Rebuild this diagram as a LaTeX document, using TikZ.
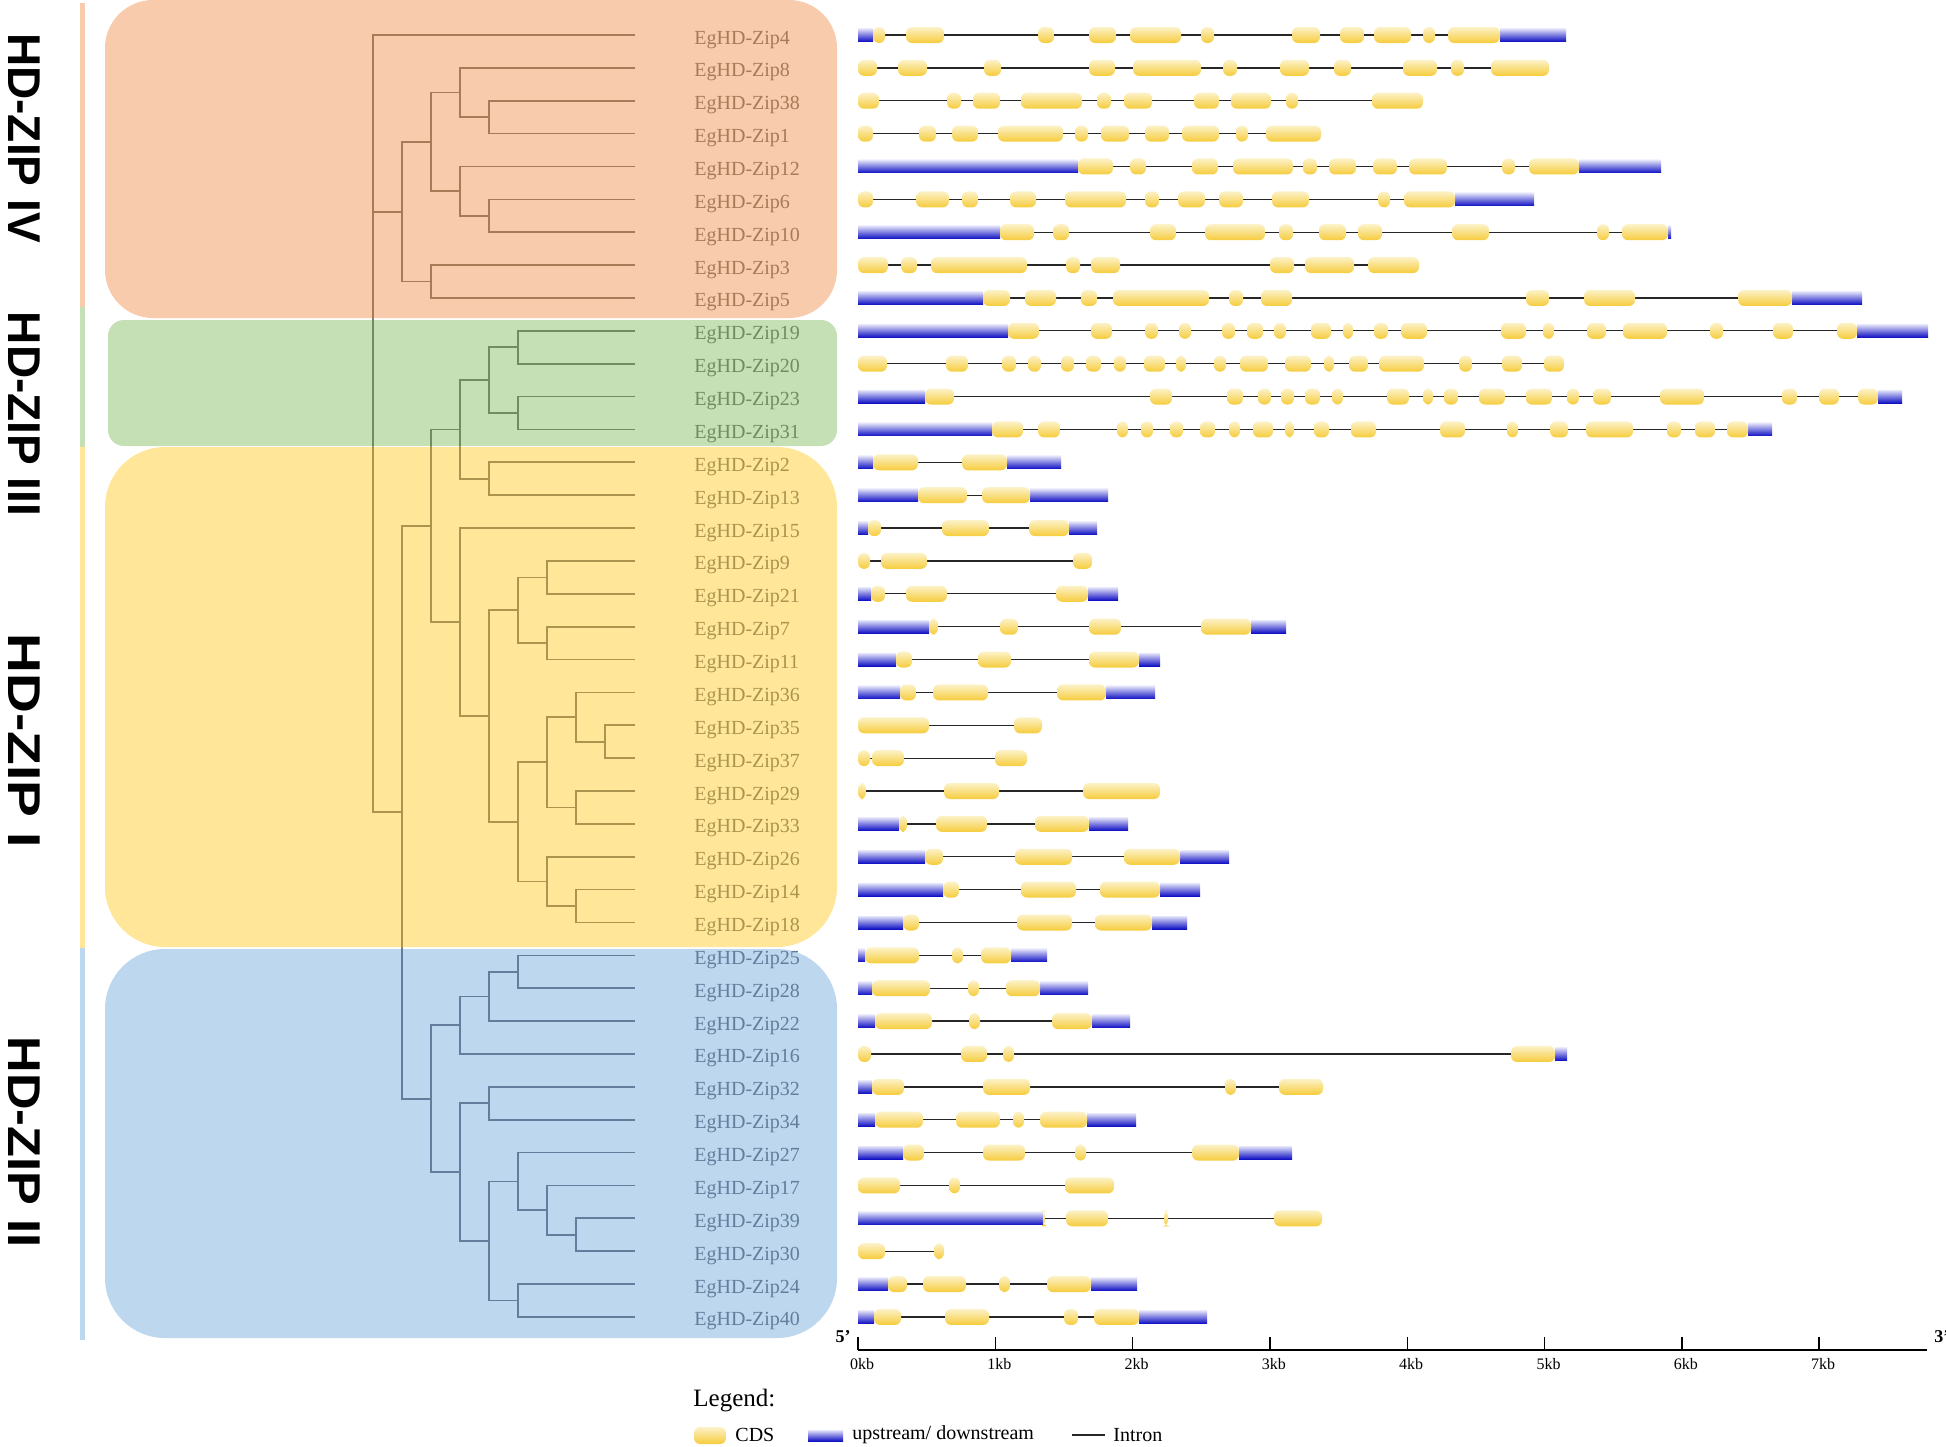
\documentclass[tikz,border=0pt]{standalone}
\usepackage{fontspec}
\setmainfont{Liberation Serif}
\newfontfamily\groupfont{Liberation Sans}
\usepackage{tikz}

\definecolor{cladeIV}{HTML}{F8CBAD}
\definecolor{cladeIII}{HTML}{C5E0B4}
\definecolor{cladeI}{HTML}{FFE699}
\definecolor{cladeII}{HTML}{BDD7EE}
\definecolor{inkIV}{RGB}{168,122,88}
\definecolor{inkIII}{RGB}{112,140,96}
\definecolor{inkI}{RGB}{170,148,78}
\definecolor{inkII}{RGB}{98,126,156}
\definecolor{cdsTop}{RGB}{252,242,200}
\definecolor{cdsBot}{RGB}{246,204,60}
\definecolor{utrTop}{RGB}{228,228,250}
\definecolor{utrMid}{RGB}{96,96,224}
\definecolor{utrBot}{RGB}{16,16,196}

\tikzset{
  branch/.style={line width=0.85pt},
  genelab/.style={font=\fontsize{10}{12}\selectfont, inner sep=0pt, anchor=base west},
  grouplab/.style={font=\groupfont\bfseries\fontsize{23}{23}\selectfont, inner sep=0pt, rotate=-90},
  cds/.style={rounded corners=3pt, top color=cdsTop, bottom color=cdsBot},
  utrbar/.style={top color=utrTop, middle color=utrMid, bottom color=utrBot},
  intron/.style={black!85, line width=0.65pt},
  axisline/.style={black, line width=1pt},
  tickline/.style={black, line width=0.7pt},
  ticklab/.style={font=\fontsize{8}{9}\selectfont, inner sep=0pt},
  leglab/.style={font=\fontsize{10}{12}\selectfont, inner sep=0pt, anchor=west}
}

% y of a row (row 0 = EgHD-Zip4)
\newcommand{\rowy}[1]{35+32.87*#1}
% row, start, end, utr list, cds list
\newcommand{\gene}[5]{%
  \draw[intron] (#2,{\rowy{#1}}) -- (#3,{\rowy{#1}});
  \if\relax\detokenize{#4}\relax\else
    \foreach \a/\b in {#4}{\path[utrbar] (\a,{\rowy{#1}-6.5}) rectangle (\b,{\rowy{#1}+6.5});}
  \fi
  \foreach \a/\b in {#5}{\path[cds] (\a,{\rowy{#1}-8}) rectangle (\b,{\rowy{#1}+8});}
}

% parent/child pairs of the tree
\def\treeedges{iv1/z38, iv1/z1, iv2/z8, iv2/iv1, iv3/z6, iv3/z10, iv4/z12, iv4/iv3,
    iv5/iv2, iv5/iv4, iv6/z3, iv6/z5, iv7/iv5, iv7/iv6,
    iii1/z19, iii1/z20, iii2/z23, iii2/z31, iii3/iii1, iii3/iii2, iii4/z2, iii4/z13, iii5/iii3, iii5/iii4,
    i1/z9, i1/z21, i2/z7, i2/z11, i3/i1, i3/i2, i4/z35, i4/z37, i5/z36, i5/i4, i6/z29, i6/z33,
    i7/i5, i7/i6, i8/z14, i8/z18, i9/z26, i9/i8, i10/i7, i10/i9, i11/i3, i11/i10, i12/z15, i12/i11,
    i13/iii5, i13/i12,
    ii1/z25, ii1/z28, ii2/ii1, ii2/z22, ii3/ii2, ii3/z16, ii4/z32, ii4/z34, ii5/z39, ii5/z30,
    ii6/z17, ii6/ii5, ii7/z27, ii7/ii6, ii8/z24, ii8/z40, ii9/ii7, ii9/ii8, ii10/ii4, ii10/ii9,
    ii11/ii3, ii11/ii10, r1/i13, r1/ii11, root/z4, root/iv7, root/r1}

\begin{document}
\begin{tikzpicture}[x=0.5pt,y=0.5pt,yscale=-1,xscale=1]
\useasboundingbox (0,0) rectangle (1946,1446);

% clade boxes
\path[fill=cladeIV, rounded corners=24pt] (105,0) rectangle (837,318);
\path[fill=cladeIII, rounded corners=8pt] (108,320) rectangle (837,446);
\path[fill=cladeI, rounded corners=30pt] (105,447) rectangle (837,947);
\path[fill=cladeII, rounded corners=30pt] (105,949) rectangle (837,1338);

% side bars
\fill[cladeIV] (80,3) rectangle (85,307);
\fill[cladeIII] (80,307) rectangle (85,447);
\fill[cladeI] (80,447) rectangle (85,948);
\fill[cladeII] (80,948) rectangle (85,1340);

% group names
\node[grouplab] (gIV) at (24,138) {HD-ZIP IV};
\node[grouplab] (gIII) at (24,414) {HD-ZIP III};
\node[grouplab, xscale=1.2] (gI) at (24,741) {HD-ZIP I};
\node[grouplab, xscale=1.1] (gII) at (24,1142) {HD-ZIP II};

% leaves and names
\foreach \g/\ink [count=\i from 0] in {4/inkIV,8/inkIV,38/inkIV,1/inkIV,12/inkIV,6/inkIV,10/inkIV,3/inkIV,5/inkIV,
    19/inkIII,20/inkIII,23/inkIII,31/inkIII,
    2/inkI,13/inkI,15/inkI,9/inkI,21/inkI,7/inkI,11/inkI,36/inkI,35/inkI,37/inkI,29/inkI,33/inkI,26/inkI,14/inkI,18/inkI,
    25/inkII,28/inkII,22/inkII,16/inkII,32/inkII,34/inkII,27/inkII,17/inkII,39/inkII,30/inkII,24/inkII,40/inkII}{
  \coordinate (z\g) at (635,{\rowy{\i}});
  \node[genelab, text=\ink] (t\g) at (694,{\rowy{\i}+9}) {EgHD-Zip\g};
}
% inner nodes: name/level/row
\foreach \n/\l/\r in {iv1/4/2.5, iv2/3/1.75, iv3/4/5.5, iv4/3/4.75, iv5/2/3.25, iv6/2/7.5, iv7/1/5.375,
    iii1/5/9.5, iii2/5/11.5, iii3/4/10.5, iii4/4/13.5, iii5/3/12,
    i1/6/16.5, i2/6/18.5, i3/5/17.5, i4/8/21.5, i5/7/20.75, i6/7/23.5, i7/6/22.125,
    i8/7/26.5, i9/6/25.75, i10/5/23.9375, i11/4/20.71875, i12/3/17.859375, i13/2/14.9296875,
    ii1/5/28.5, ii2/4/29.25, ii3/3/30.125, ii4/4/32.5, ii5/7/36.5, ii6/6/35.75, ii7/5/34.875,
    ii8/5/38.5, ii9/4/36.6875, ii10/3/34.59375, ii11/2/32.359375,
    r1/1/23.64453125, root/0/5.375}
  \coordinate (\n) at ({373+29*\l},{\rowy{\r}});

% branches, tinted by the box they cross
\foreach \ya/\yb/\ink in {0/319/inkIV, 319/446.5/inkIII, 446.5/948/inkI, 948/1446/inkII}{
  \begin{scope}
    \clip (0,\ya) rectangle (850,\yb);
    \foreach \p/\c in \treeedges
      \draw[branch, \ink] (\p) |- (\c);
  \end{scope}
}

% gene structures
\gene{0}{858}{1566}{858/873, 1500/1566}{873/885, 906/944, 1038/1054, 1089/1116, 1130/1181, 1201/1214, 1292/1320, 1340/1364, 1374/1411, 1423/1435, 1448/1500}
\gene{1}{858}{1549}{}{858/877, 898/927, 984/1001, 1089/1115, 1133/1201, 1223/1237, 1280/1309, 1334/1351, 1403/1437, 1451/1464, 1491/1549}
\gene{2}{858}{1423}{}{858/879, 947/961, 973/1000, 1021/1082, 1097/1111, 1124/1152, 1194/1219, 1231/1271, 1286/1298, 1372/1423}
\gene{3}{858}{1321}{}{858/873, 919/936, 952/978, 998/1063, 1075/1088, 1101/1129, 1145/1169, 1182/1219, 1236/1248, 1266/1321}
\gene{4}{858}{1661}{858/1078, 1579/1661}{1078/1113, 1130/1146, 1192/1218, 1233/1293, 1303/1317, 1329/1356, 1373/1397, 1409/1447, 1502/1515, 1529/1579}
\gene{5}{858}{1534}{1455/1534}{858/873, 916/949, 962/978, 1010/1036, 1065/1126, 1145/1159, 1178/1205, 1219/1243, 1272/1309, 1378/1390, 1404/1455}
\gene{6}{858}{1671}{858/1000, 1668/1671}{1000/1034, 1053/1069, 1150/1176, 1205/1265, 1279/1293, 1319/1346, 1358/1382, 1452/1489, 1597/1609, 1622/1668}
\gene{7}{858}{1419}{}{858/888, 901/917, 931/1027, 1066/1080, 1091/1120, 1270/1294, 1305/1354, 1368/1419}
\gene{8}{858}{1862}{858/983, 1792/1862}{983/1010, 1025/1056, 1081/1097, 1113/1209, 1229/1243, 1261/1292, 1526/1549, 1584/1635, 1738/1792}
\gene{9}{858}{1928}{858/1008, 1857/1928}{1008/1039, 1091/1112, 1145/1158, 1179/1191, 1222/1235, 1247/1263, 1274/1286, 1311/1331, 1343/1353, 1374/1388, 1401/1427, 1501/1526, 1543/1554, 1587/1606, 1623/1667, 1710/1723, 1773/1793, 1837/1857}
\gene{10}{858}{1564}{}{858/887, 946/968, 1002/1016, 1028/1041, 1061/1074, 1086/1101, 1114/1126, 1144/1165, 1176/1186, 1214/1226, 1240/1268, 1285/1311, 1324/1334, 1349/1368, 1379/1424, 1459/1472, 1502/1522, 1544/1564}
\gene{11}{858}{1902}{858/925, 1878/1902}{925/954, 1150/1172, 1227/1243, 1258/1271, 1281/1294, 1305/1320, 1332/1343, 1387/1409, 1423/1433, 1444/1458, 1479/1505, 1526/1552, 1567/1579, 1593/1611, 1660/1704, 1782/1797, 1819/1839, 1858/1878}
\gene{12}{858}{1772}{858/992, 1748/1772}{992/1023, 1038/1060, 1117/1128, 1141/1153, 1170/1183, 1200/1215, 1229/1240, 1253/1273, 1285/1294, 1314/1329, 1351/1376, 1440/1465, 1507/1518, 1550/1568, 1586/1633, 1667/1681, 1695/1715, 1727/1748}
\gene{13}{858}{1061}{858/873, 1007/1061}{873/918, 962/1007}
\gene{14}{858}{1108}{858/918, 1030/1108}{918/967, 982/1030}
\gene{15}{858}{1097}{858/868, 1069/1097}{868/881, 942/989, 1029/1069}
\gene{16}{858}{1092}{}{858/870, 881/927, 1073/1092}
\gene{17}{858}{1118}{858/871, 1088/1118}{871/885, 906/947, 1056/1088}
\gene{18}{858}{1286}{858/929, 1251/1286}{929/938, 1000/1018, 1089/1121, 1201/1251}
\gene{19}{858}{1160}{858/896, 1139/1160}{896/912, 978/1011, 1089/1139}
\gene{20}{858}{1155}{858/900, 1106/1155}{900/916, 933/988, 1057/1106}
\gene{21}{858}{1042}{}{858/929, 1014/1042}
\gene{22}{858}{1027}{}{858/870, 872/904, 995/1027}
\gene{23}{858}{1160}{}{858/866, 944/999, 1083/1160}
\gene{24}{858}{1128}{858/899, 1089/1128}{899/907, 936/987, 1035/1089}
\gene{25}{858}{1229}{858/925, 1180/1229}{925/943, 1015/1072, 1124/1180}
\gene{26}{858}{1200}{858/943, 1160/1200}{943/959, 1021/1076, 1100/1160}
\gene{27}{858}{1187}{858/903, 1152/1187}{903/919, 1017/1072, 1095/1152}
\gene{28}{858}{1047}{858/865, 1011/1047}{865/919, 952/963, 981/1011}
\gene{29}{858}{1088}{858/872, 1040/1088}{872/930, 968/979, 1006/1040}
\gene{30}{858}{1130}{858/875, 1092/1130}{875/932, 969/980, 1052/1092}
\gene{31}{858}{1567}{1555/1567}{858/871, 961/987, 1003/1014, 1511/1555}
\gene{32}{858}{1323}{858/872}{872/904, 983/1030, 1225/1236, 1279/1323}
\gene{33}{858}{1136}{858/875, 1087/1136}{875/923, 956/1000, 1013/1024, 1040/1087}
\gene{34}{858}{1292}{858/903, 1239/1292}{903/924, 983/1025, 1075/1086, 1192/1239}
\gene{35}{858}{1114}{}{858/900, 949/960, 1065/1114}
\gene{36}{858}{1322}{858/1043}{1043/1045, 1066/1108, 1164/1168, 1274/1322}
\gene{37}{858}{944}{}{858/885, 934/944}
\gene{38}{858}{1137}{858/888, 1091/1137}{888/907, 923/966, 999/1010, 1047/1091}
\gene{39}{858}{1207}{858/874, 1139/1207}{874/901, 945/989, 1064/1078, 1094/1139}

% scale bar
\coordinate (ax0) at (858,1350);
\coordinate (ax1) at (1927,1350);
\draw[axisline] (ax0) -- (ax1);
\foreach \k in {0,...,7}{
  \coordinate (tk\k) at ({858+137.3*\k},1350);
  \draw[tickline] (tk\k) -- ++(0,-13);
  \node[ticklab] (kb\k) at ({862+137.3*\k},1364) {\k kb};
}
\node[ticklab, font=\bfseries\fontsize{9}{9}\selectfont] (p5) at (843,1337) {5'};
\node[ticklab, font=\bfseries\fontsize{9}{9}\selectfont, anchor=west] (p3) at (1934,1337) {3'};

% legend
\node[leglab, font=\fontsize{12.5}{14}\selectfont] (leg) at (693,1400) {Legend:};
\path[cds] (694,1427) rectangle (726,1444);
\node[leglab] (lcds) at (735,1435) {CDS};
\path[utrbar] (808,1430) rectangle (843,1441);
\node[leglab] (lutr) at (852,1435) {upstream/ downstream};
\coordinate (in0) at (1072,1435);
\coordinate (in1) at (1105,1435);
\draw[intron] (in0) -- (in1);
\node[leglab] (lint) at (1113,1435) {Intron};

\end{tikzpicture}
\end{document}
